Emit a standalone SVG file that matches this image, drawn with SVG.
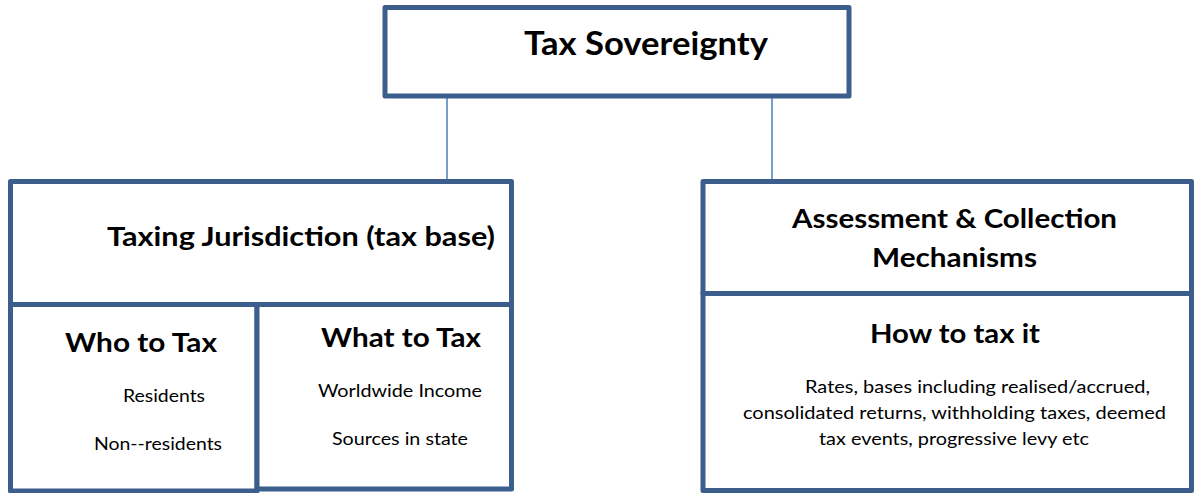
<svg xmlns="http://www.w3.org/2000/svg" width="1199" height="493" viewBox="0 0 1199 493">
<style>
.box{fill:#ffffff;stroke:#3b5e8c;stroke-width:5;stroke-linejoin:round}
.conn{stroke:#4a7ebb;stroke-width:1.5;fill:none}
.h{font-family:Lato,"Open Sans","Liberation Sans",sans-serif;font-weight:bold;fill:#000}
.t{font-family:Lato,"Open Sans","Liberation Sans",sans-serif;font-size:18px;fill:#000}
</style>
<rect width="1199" height="493" fill="#ffffff"/>
<g id="connectors">
<line class="conn" x1="447" y1="96" x2="447" y2="182"/>
<line class="conn" x1="772" y1="96" x2="772" y2="182"/>
</g>
<g id="tax-sovereignty">
<rect class="box" x="385" y="7.5" width="464" height="88.5"/>
<text class="h" x="524" y="55" font-size="32" textLength="244" lengthAdjust="spacingAndGlyphs">Tax Sovereignty</text>
</g>
<g id="taxing-jurisdiction">
<rect class="box" x="10.5" y="181.5" width="501" height="123"/>
<text class="h" x="107" y="246" font-size="27" textLength="388" lengthAdjust="spacingAndGlyphs">Taxing Jurisdiction (tax base)</text>
</g>
<g id="who-to-tax">
<rect class="box" x="10.5" y="304.5" width="246.5" height="186.5"/>
<text class="h" x="65" y="352" font-size="27" textLength="152" lengthAdjust="spacingAndGlyphs">Who to Tax</text>
<text class="t" x="123" y="402" textLength="82" lengthAdjust="spacingAndGlyphs">Residents</text>
<text class="t" x="94" y="450" textLength="128" lengthAdjust="spacingAndGlyphs">Non--residents</text>
</g>
<g id="what-to-tax">
<rect class="box" x="257" y="304.5" width="254.5" height="184.5"/>
<text class="h" x="321" y="347" font-size="27" textLength="160" lengthAdjust="spacingAndGlyphs">What to Tax</text>
<text class="t" x="318" y="397" textLength="164" lengthAdjust="spacingAndGlyphs">Worldwide Income</text>
<text class="t" x="332" y="445" textLength="136" lengthAdjust="spacingAndGlyphs">Sources in state</text>
</g>
<g id="assessment-collection">
<rect class="box" x="703" y="181.5" width="488.5" height="112"/>
<text class="h" x="792" y="228" font-size="27" textLength="325" lengthAdjust="spacingAndGlyphs">Assessment &amp; Collection</text>
<text class="h" x="872" y="267" font-size="27" textLength="165" lengthAdjust="spacingAndGlyphs">Mechanisms</text>
</g>
<g id="how-to-tax-it">
<rect class="box" x="703" y="293.5" width="488.5" height="197"/>
<text class="h" x="870" y="343" font-size="27" textLength="170" lengthAdjust="spacingAndGlyphs">How to tax it</text>
<text class="t" x="805" y="393" textLength="345" lengthAdjust="spacingAndGlyphs">Rates, bases including realised/accrued,</text>
<text class="t" x="743" y="419" textLength="423" lengthAdjust="spacingAndGlyphs">consolidated returns, withholding taxes, deemed</text>
<text class="t" x="819" y="445" textLength="270" lengthAdjust="spacingAndGlyphs">tax events, progressive levy etc</text>
</g>
</svg>
